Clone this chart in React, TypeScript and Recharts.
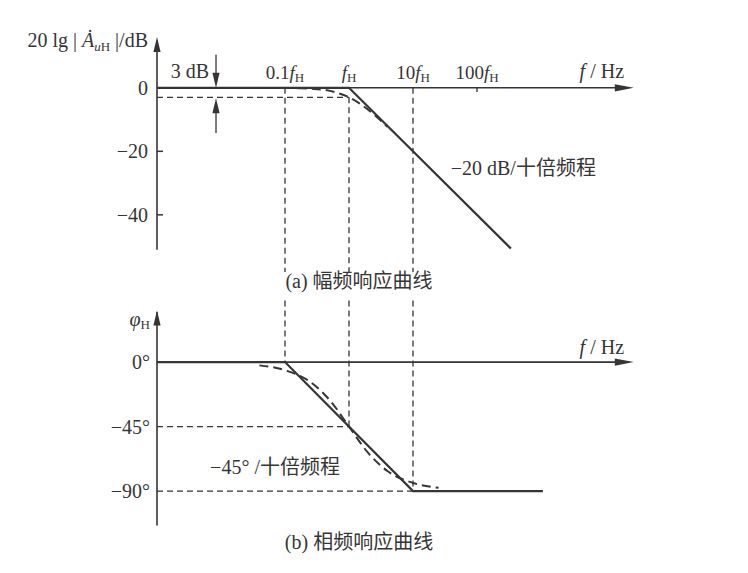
import React from 'react'
import { LineChart, Line, XAxis, YAxis, ReferenceLine, ReferenceDot } from 'recharts'

// x values are decades: log10(f / fH)
const freqTickX = [-1, 0, 1, 2]
const freqTickText = ['0.1', '', '10', '100']

const magTicks = [0, -20, -40]
const magAsymX = [-3, 0, 2.53]
const magAsymDb = [0, 0, -50.6]
const magRealX = [-0.8, -0.6, -0.4, -0.2, 0, 0.2, 0.4, 0.6]
const magRealDb = [-0.1, -0.3, -0.6, -1.5, -3, -5.4, -8.6, -12.3]

const phaseTicks = [0, -45, -90]
const phaseAsymX = [-3, -1, 1, 3.03]
const phaseAsymDeg = [0, 0, -90, -90]
const phaseRealX = [-1.4, -1, -0.6, -0.3, 0, 0.3, 0.6, 1, 1.4]
const phaseRealDeg = [-2.3, -5.7, -14, -26.6, -45, -63.4, -76, -84.3, -87.7]

const toPoints = (xs: number[], ys: number[]) => xs.map((x, i) => ({ x, y: ys[i] }))

const ink = '#353535'
const FONT = '"Liberation Serif", "Noto Sans CJK SC", serif'
const dash = { stroke: ink, strokeWidth: 1.3, strokeDasharray: '6 4' }
const axisStroke = { stroke: ink, strokeWidth: 1.6 }

const minus = (v: number) => (v < 0 ? '\u2212' + Math.abs(v) : String(v))

const Arrow = ({ cx, cy, dir }: any) => {
  const L = 15
  const W = 3.6
  let pts = ''
  if (dir === 'up') pts = `${cx},${cy} ${cx - W},${cy + L} ${cx + W},${cy + L}`
  if (dir === 'down') pts = `${cx},${cy} ${cx - W},${cy - L} ${cx + W},${cy - L}`
  if (dir === 'right') pts = `${cx},${cy} ${cx - L - 4},${cy - W} ${cx - L - 4},${cy + W}`
  return <polygon points={pts} fill={ink} />
}

const Txt = ({ cx, cy, dx = 0, dy = 0, anchor = 'start', size = 20, children }: any) => (
  <text x={cx + dx} y={cy + dy} textAnchor={anchor} fontFamily={FONT} fontSize={size} fill={ink}>
    {children}
  </text>
)

const FreqLabel = ({ cx, cy, text }: any) => (
  <Txt cx={cx} cy={cy} dy={-9} anchor="middle" size={19}>
    {text}
    <tspan fontStyle="italic">f</tspan>
    <tspan fontSize={13} dy={3}>H</tspan>
  </Txt>
)

const MagTick = ({ cx, cy, value }: any) => (
  <g>
    <Txt cx={cx} cy={cy} dx={-9} dy={7} anchor="end">
      {minus(value)}
    </Txt>
    {value !== 0 && <line x1={cx} x2={cx + 6} y1={cy} y2={cy} stroke={ink} strokeWidth={1.5} />}
  </g>
)

const PhaseTick = ({ cx, cy, value }: any) => (
  <Txt cx={cx} cy={cy} dx={-7} dy={7} anchor="end">
    {minus(value) + '°'}
  </Txt>
)

export default function App() {
  const magAsym = toPoints(magAsymX, magAsymDb)
  const magReal = toPoints(magRealX, magRealDb)
  const phaseAsym = toPoints(phaseAsymX, phaseAsymDeg)
  const phaseReal = toPoints(phaseRealX, phaseRealDeg)

  return (
    <div style={{ position: 'absolute', left: 0, top: 0, width: 748, height: 573, background: '#fff' }}>
      {/* (a) magnitude */}
      <div style={{ position: 'absolute', left: 0, top: 0 }}>
        <LineChart width={748} height={300} margin={{ top: 37, right: 111, bottom: 28, left: 157 }}>
          <XAxis type="number" dataKey="x" domain={[-3, 4.5]} hide allowDataOverflow />
          <YAxis type="number" domain={[-58, 16]} hide allowDataOverflow />
          <ReferenceLine segment={[{ x: -3, y: 15 }, { x: -3, y: -51 }]} {...axisStroke} />
          <ReferenceLine segment={[{ x: -3, y: 0 }, { x: 4.3, y: 0 }]} {...axisStroke} />
          <ReferenceDot x={-3} y={16} shape={(p: any) => <Arrow {...p} dir="up" />} />
          <ReferenceDot x={4.45} y={0} shape={(p: any) => <Arrow {...p} dir="right" />} />
          {magTicks.map((v) => (
            <ReferenceDot key={v} x={-3} y={v} shape={(p: any) => <MagTick {...p} value={v} />} />
          ))}

          <ReferenceLine segment={[{ x: -1, y: 0 }, { x: -1, y: -58 }]} {...dash} />
          <ReferenceLine segment={[{ x: 0, y: -3 }, { x: 0, y: -58 }]} {...dash} />
          <ReferenceLine segment={[{ x: 1, y: 0 }, { x: 1, y: -58 }]} {...dash} />
          <ReferenceLine segment={[{ x: -3, y: -3 }, { x: 0, y: -3 }]} {...dash} />
          <ReferenceLine segment={[{ x: 2, y: 0 }, { x: 2, y: -1.3 }]} stroke={ink} strokeWidth={1.3} />

          {/* 3 dB marker */}
          <ReferenceLine segment={[{ x: -2.078, y: 10.4 }, { x: -2.078, y: 2 }]} stroke={ink} strokeWidth={1.3} />
          <ReferenceDot x={-2.078} y={0} shape={(p: any) => <Arrow {...p} dir="down" />} />
          <ReferenceLine segment={[{ x: -2.078, y: -14.2 }, { x: -2.078, y: -5 }]} stroke={ink} strokeWidth={1.3} />
          <ReferenceDot x={-2.078} y={-3.3} shape={(p: any) => <Arrow {...p} dir="up" />} />
          <ReferenceDot x={-2.078} y={0} shape={(p: any) => <Txt {...p} dx={-7} dy={-10} anchor="end">3 dB</Txt>} />

          {freqTickX.map((x, i) => (
            <ReferenceDot key={x} x={x} y={0} shape={(p: any) => <FreqLabel {...p} text={freqTickText[i]} />} />
          ))}
          <ReferenceDot
            x={3.95}
            y={0}
            shape={(p: any) => (
              <Txt {...p} dy={-10} anchor="middle">
                <tspan fontStyle="italic">f</tspan> / Hz
              </Txt>
            )}
          />
          <ReferenceDot
            x={-3}
            y={16}
            shape={(p: any) => (
              <Txt {...p} dx={-9} dy={10} anchor="end">
                20 lg | <tspan fontStyle="italic">Ȧ</tspan>
                <tspan fontSize={13} dy={4}>
                  <tspan fontStyle="italic">u</tspan>H
                </tspan>
                <tspan dy={-4}> |/dB</tspan>
              </Txt>
            )}
          />
          <ReferenceDot x={1.59} y={-27.4} shape={(p: any) => <Txt {...p}>{'\u221220 dB/十倍频程'}</Txt>} />
          <ReferenceDot
            x={0.156}
            y={-58}
            ifOverflow="visible"
            shape={(p: any) => <Txt {...p} dy={16} anchor="middle">(a) 幅频响应曲线</Txt>}
          />

          <Line data={magAsym} dataKey="y" type="linear" stroke={ink} strokeWidth={2.2} dot={false} isAnimationActive={false} />
          <Line
            data={magReal}
            dataKey="y"
            type="monotone"
            stroke={ink}
            strokeWidth={2}
            strokeDasharray="9 5"
            dot={false}
            isAnimationActive={false}
          />
        </LineChart>
      </div>

      {/* (b) phase */}
      <div style={{ position: 'absolute', left: 0, top: 290 }}>
        <LineChart width={748} height={283} margin={{ top: 9, right: 111, bottom: 47.5, left: 157 }}>
          <XAxis type="number" dataKey="x" domain={[-3, 4.5]} hide allowDataOverflow />
          <YAxis type="number" domain={[-114, 44]} hide allowDataOverflow />
          <ReferenceLine segment={[{ x: -3, y: 35 }, { x: -3, y: -114 }]} {...axisStroke} />
          <ReferenceLine segment={[{ x: -3, y: 0 }, { x: 4.3, y: 0 }]} {...axisStroke} />
          <ReferenceDot x={-3} y={36} shape={(p: any) => <Arrow {...p} dir="up" />} />
          <ReferenceDot x={4.45} y={0} shape={(p: any) => <Arrow {...p} dir="right" />} />
          {phaseTicks.map((v) => (
            <ReferenceDot key={v} x={-3} y={v} shape={(p: any) => <PhaseTick {...p} value={v} />} />
          ))}

          <ReferenceLine segment={[{ x: -1, y: 43 }, { x: -1, y: 0 }]} {...dash} />
          <ReferenceLine segment={[{ x: 0, y: 43 }, { x: 0, y: -45 }]} {...dash} />
          <ReferenceLine segment={[{ x: 1, y: 43 }, { x: 1, y: -90 }]} {...dash} />
          <ReferenceLine segment={[{ x: -3, y: -45 }, { x: 0, y: -45 }]} {...dash} />
          <ReferenceLine segment={[{ x: -3, y: -90 }, { x: 1, y: -90 }]} {...dash} />

          <ReferenceDot
            x={-3}
            y={36}
            shape={(p: any) => (
              <Txt {...p} dx={-7} dy={16} anchor="end">
                <tspan fontStyle="italic">φ</tspan>
                <tspan fontSize={13} dy={3}>H</tspan>
              </Txt>
            )}
          />
          <ReferenceDot
            x={3.95}
            y={0}
            shape={(p: any) => (
              <Txt {...p} dy={-8} anchor="middle">
                <tspan fontStyle="italic">f</tspan> / Hz
              </Txt>
            )}
          />
          <ReferenceDot x={-2.17} y={-78} shape={(p: any) => <Txt {...p}>{'\u221245° /十倍频程'}</Txt>} />
          <ReferenceDot
            x={0.156}
            y={-114}
            ifOverflow="visible"
            shape={(p: any) => <Txt {...p} dy={23} anchor="middle">(b) 相频响应曲线</Txt>}
          />

          <Line data={phaseAsym} dataKey="y" type="linear" stroke={ink} strokeWidth={2.2} dot={false} isAnimationActive={false} />
          <Line
            data={phaseReal}
            dataKey="y"
            type="monotone"
            stroke={ink}
            strokeWidth={2}
            strokeDasharray="9 5"
            dot={false}
            isAnimationActive={false}
          />
        </LineChart>
      </div>
    </div>
  )
}
